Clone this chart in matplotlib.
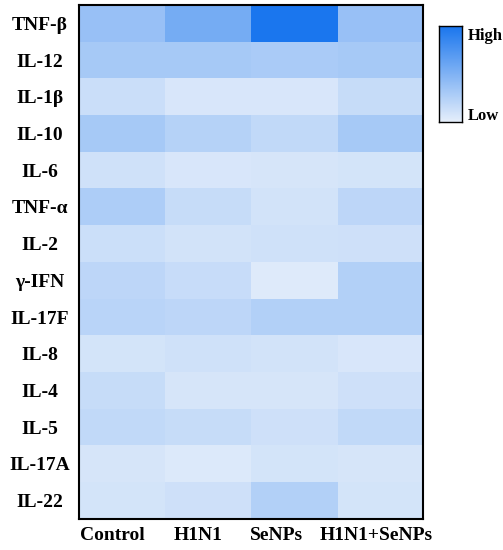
import matplotlib.pyplot as plt
import numpy as np
from matplotlib.colors import LinearSegmentedColormap
from matplotlib.transforms import ScaledTranslation

groups = ["Control", "H1N1", "SeNPs", "H1N1+SeNPs"]
cytokines = ["TNF-β", "IL-12", "IL-1β", "IL-10", "IL-6", "TNF-α", "IL-2",
             "γ-IFN", "IL-17F", "IL-8", "IL-4", "IL-5", "IL-17A", "IL-22"]

# relative expression (0 = low, 1 = high)
control   = [0.38, 0.31, 0.14, 0.31, 0.11, 0.28, 0.13, 0.20, 0.22, 0.09, 0.16, 0.18, 0.08, 0.09]
h1n1      = [0.55, 0.31, 0.07, 0.24, 0.07, 0.16, 0.10, 0.15, 0.20, 0.11, 0.08, 0.16, 0.05, 0.12]
senps     = [1.00, 0.29, 0.07, 0.18, 0.08, 0.10, 0.11, 0.04, 0.25, 0.10, 0.08, 0.12, 0.09, 0.25]
h1n1senps = [0.38, 0.31, 0.16, 0.31, 0.09, 0.20, 0.12, 0.25, 0.25, 0.07, 0.12, 0.18, 0.08, 0.09]

data = np.array([control, h1n1, senps, h1n1senps]).T

cmap = LinearSegmentedColormap.from_list("blu", ["#E6EFFB", "#1A76EE"])
serif = ["Liberation Serif", "DejaVu Serif"]

fig = plt.figure(figsize=(5.03, 5.50), dpi=100)
ax = fig.add_axes([0.157, 0.0564, 0.684, 0.9345])
ax.imshow(data, cmap=cmap, vmin=0, vmax=1, aspect="auto", interpolation="nearest")
ax.set_xticks(range(len(groups)))
ax.set_xticklabels(groups, fontfamily=serif, fontweight="bold", fontsize=14)
ax.set_yticks(range(len(cytokines)))
ax.set_yticklabels(cytokines, fontfamily=serif, fontweight="bold", fontsize=14, ha="center")
ax.tick_params(axis="y", length=0, pad=28)
ax.tick_params(axis="x", length=0, pad=6)
# labels in the original sit a little left of the cell centres
for lab, dx in zip(ax.get_xticklabels(), [-0.10, -0.10, -0.18, -0.04]):
    lab.set_transform(lab.get_transform() + ScaledTranslation(dx, 0, fig.dpi_scale_trans))
for s in ax.spines.values():
    s.set_linewidth(1.5)

cax = fig.add_axes([0.873, 0.778, 0.0457, 0.1745])
grad = np.linspace(0, 1, 256).reshape(-1, 1)
cax.imshow(grad, cmap=cmap, aspect="auto", origin="lower")
cax.set_xticks([])
cax.set_yticks([])
for s in cax.spines.values():
    s.set_linewidth(1.0)
fig.text(0.93, 0.935, "High", fontfamily=serif, fontweight="bold", fontsize=12, va="center")
fig.text(0.93, 0.79, "Low", fontfamily=serif, fontweight="bold", fontsize=12, va="center")

fig.savefig("out.png", dpi=100)
